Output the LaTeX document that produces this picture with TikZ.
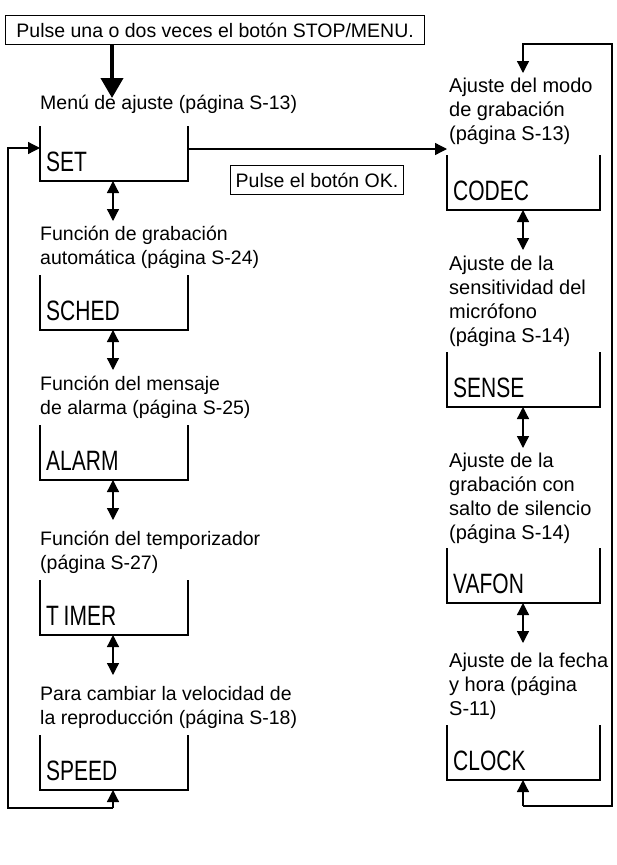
\documentclass[tikz,border=0pt]{standalone}
\usepackage{fontspec}
\setmainfont{Liberation Sans}
\newfontfamily\lblfont{Liberation Sans}[FakeStretch=0.75]
\usetikzlibrary{arrows.meta}
\begin{document}
\begin{tikzpicture}[x=1pt,y=-1pt,
  txt/.style={anchor=base west,inner sep=0pt,font=\fontsize{19.5}{23}\selectfont},
  rtxt/.style={txt,font=\fontsize{20}{23}\selectfont},
  lbl/.style={anchor=base west,inner sep=0pt,font=\lblfont\fontsize{28}{30}\selectfont},
  ubox/.style={line width=1.3pt},
  ln/.style={line width=1.3pt},
  arr/.style={line width=1.3pt,-{Triangle[length=12pt,width=12pt]}},
  darr/.style={line width=1.3pt,{Triangle[length=12pt,width=12pt]}-{Triangle[length=12pt,width=12pt]}},
  frame/.style={draw,line width=1.3pt,inner sep=5pt,font=\fontsize{19.5}{23}\selectfont}]
\useasboundingbox (0,0) rectangle (617,865);
\node[frame,minimum width=419pt,minimum height=29pt,anchor=north west] (top) at (5,15) {Pulse una o dos veces el botón STOP/MENU.};
\coordinate (tb) at (112,44);
\coordinate (te) at (112,98);
\draw[line width=4pt,-{Triangle[length=20pt,width=22pt]}] (tb) -- (te);
\node[frame,anchor=north west,minimum height=29pt,minimum width=168pt] (ok) at (230,165) {Pulse el botón OK.};
% left column
\node[txt] at (40,109) {Menú de ajuste (página S-13)};
\node[txt] at (40,240) {Función de grabación};
\node[txt] at (40,264) {automática (página S-24)};
\node[txt] at (40,390) {Función del mensaje};
\node[txt] at (40,414) {de alarma (página S-25)};
\node[txt] at (40,545) {Función del temporizador};
\node[txt] at (40,569) {(página S-27)};
\node[txt] at (40,700) {Para cambiar la velocidad de};
\node[txt] at (40,724) {la reproducción (página S-18)};
\foreach \n/\t/\y in {set/SET/126,sched/SCHED/275,alarm/ALARM/425,timer/T\,IMER/580,speed/SPEED/735}{
  \draw[ubox] (40,\y) -- (40,\y+55) -- (188,\y+55) -- (188,\y);
  \node[lbl] at (46,\y+45) {\t};
  \coordinate (\n) at (113,\y+55);
}
\draw[darr] (set) -- ++(0,40);
\draw[darr] (sched) -- ++(0,40);
\draw[darr] (alarm) -- ++(0,40);
\draw[darr] (timer) -- ++(0,40);
\coordinate (lb) at (113,808);
\coordinate (in) at (40,148);
\draw[arr] (lb) -- (speed);
\draw[ln,-{Triangle[length=12pt,width=12pt]}] (lb) -- (8,808) -- (8,148) -- (in);
\coordinate (so) at (188,149);
\coordinate (ci) at (447,149);
\draw[arr] (so) -- (ci);
% right column
\node[rtxt] at (449,92) {Ajuste del modo};
\node[rtxt] at (449,116) {de grabación};
\node[rtxt] at (449,140) {(página S-13)};
\node[rtxt] at (449,270) {Ajuste de la};
\node[rtxt] at (449,294) {sensitividad del};
\node[rtxt] at (449,318) {micrófono};
\node[rtxt] at (449,342) {(página S-14)};
\node[rtxt] at (449,467) {Ajuste de la};
\node[rtxt] at (449,491) {grabación con};
\node[rtxt] at (449,515) {salto de silencio};
\node[rtxt] at (449,539) {(página S-14)};
\node[rtxt] at (449,667) {Ajuste de la fecha};
\node[rtxt] at (449,691) {y hora (página};
\node[rtxt] at (449,715) {S-11)};
\foreach \n/\t/\y in {codec/CODEC/155,sense/SENSE/352,vafon/VAFON/548,clock/CLOCK/725}{
  \draw[ubox] (447,\y) -- (447,\y+55) -- (600,\y+55) -- (600,\y);
  \node[lbl] at (453,\y+45) {\t};
  \coordinate (\n) at (523,\y+55);
}
\draw[darr] (codec) -- ++(0,40);
\draw[darr] (sense) -- ++(0,41);
\draw[darr] (vafon) -- ++(0,40);
\coordinate (rb) at (523,806);
\coordinate (rt) at (523,73);
\draw[arr] (rb) -- (clock);
\draw[ln,-{Triangle[length=12pt,width=12pt]}] (rb) -- (612,806) -- (612,44) -- (523,44) -- (rt);
\end{tikzpicture}
\end{document}
